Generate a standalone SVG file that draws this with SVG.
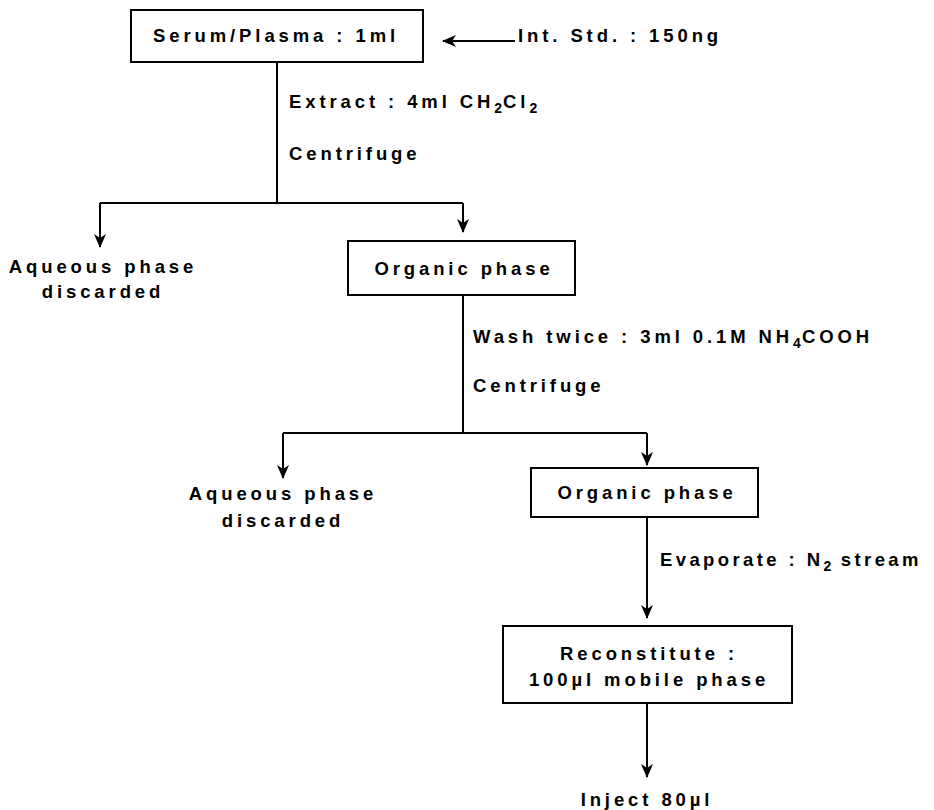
<svg xmlns="http://www.w3.org/2000/svg" width="934" height="810" viewBox="0 0 934 810">
<style>
text{font-family:"Liberation Sans",Arial,sans-serif;font-weight:bold;font-size:18.5px;letter-spacing:3.9px;fill:#000}
.c{text-anchor:middle}
.box{fill:#fff;stroke:#000;stroke-width:2}
.ln{fill:none;stroke:#000;stroke-width:2}
.sub{font-size:14px;letter-spacing:1px}
</style>
<defs>
<marker id="ah" viewBox="0 0 16 12" refX="15" refY="6" markerWidth="16" markerHeight="12" markerUnits="userSpaceOnUse" orient="auto">
<path d="M16,6 L2,0 L6,6 L2,12 Z" fill="#000"/>
</marker>
</defs>
<g id="connectors">
<line class="ln" x1="515" y1="41" x2="443" y2="41" marker-end="url(#ah)"/>
<line class="ln" x1="277" y1="62" x2="277" y2="203"/>
<line class="ln" x1="100" y1="203" x2="463" y2="203"/>
<line class="ln" x1="100" y1="203" x2="100" y2="247" marker-end="url(#ah)"/>
<line class="ln" x1="463" y1="203" x2="463" y2="232" marker-end="url(#ah)"/>
<line class="ln" x1="463" y1="295" x2="463" y2="433"/>
<line class="ln" x1="283" y1="433" x2="647" y2="433"/>
<line class="ln" x1="283" y1="433" x2="283" y2="478" marker-end="url(#ah)"/>
<line class="ln" x1="647" y1="433" x2="647" y2="465" marker-end="url(#ah)"/>
<line class="ln" x1="647" y1="517" x2="647" y2="618" marker-end="url(#ah)"/>
<line class="ln" x1="647" y1="703" x2="647" y2="777" marker-end="url(#ah)"/>
<text x="289" y="108">Extract : 4ml CH<tspan class="sub" dy="5">2</tspan><tspan dy="-5">Cl</tspan><tspan class="sub" dy="5">2</tspan></text>
<text x="289" y="160">Centrifuge</text>
<text x="473" y="343">Wash twice : 3ml 0.1M NH<tspan class="sub" dy="5">4</tspan><tspan dy="-5">COOH</tspan></text>
<text x="473" y="392">Centrifuge</text>
<text x="660" y="566" style="letter-spacing:3.4px">Evaporate : N<tspan class="sub" dy="5">2</tspan><tspan dy="-5"> stream</tspan></text>
</g>
<g id="serum">
<rect class="box" x="131" y="10" width="292" height="52"/>
<text class="c" x="276" y="42">Serum/Plasma : 1ml</text>
</g>
<g id="intstd">
<text x="518" y="42">Int. Std. : 150ng</text>
</g>
<g id="aqueous1">
<text class="c" x="103" y="273">Aqueous phase</text>
<text class="c" x="103" y="298">discarded</text>
</g>
<g id="organic1">
<rect class="box" x="348" y="241" width="227" height="54"/>
<text class="c" x="464" y="275">Organic phase</text>
</g>
<g id="aqueous2">
<text class="c" x="283" y="500">Aqueous phase</text>
<text class="c" x="283" y="527">discarded</text>
</g>
<g id="organic2">
<rect class="box" x="531" y="468" width="227" height="49"/>
<text class="c" x="647" y="499">Organic phase</text>
</g>
<g id="reconstitute">
<rect class="box" x="503" y="626" width="289" height="77"/>
<text class="c" x="649" y="660">Reconstitute :</text>
<text class="c" x="649" y="686">100µl mobile phase</text>
</g>
<g id="inject">
<text class="c" x="647" y="806">Inject 80µl</text>
</g>
</svg>
